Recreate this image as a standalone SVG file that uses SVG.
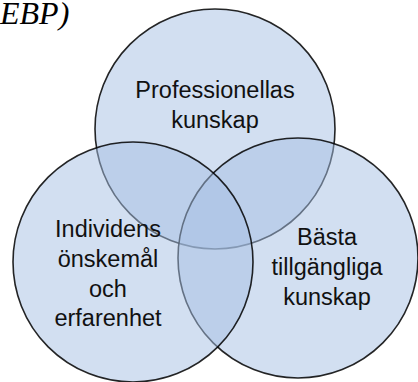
<svg xmlns="http://www.w3.org/2000/svg" width="418" height="382" viewBox="0 0 418 382">
<style>
.c{fill:rgb(165,192,228);fill-opacity:0.5;stroke:#000;stroke-width:1.6;stroke-opacity:0.85}
.t{font-family:"Liberation Sans",Arial,sans-serif;font-size:23.5px;fill:#111;text-anchor:middle}
.h{font-family:"Liberation Serif","Times New Roman",serif;font-size:32px;font-style:italic;fill:#000}
</style>
<rect width="418" height="382" fill="#fff"/>
<text class="h" x="0" y="24">EBP)</text>
<g id="professionellas">
<circle class="c" cx="215" cy="129" r="120"/>
</g>
<g id="basta">
<circle class="c" cx="298" cy="258" r="120"/>
</g>
<g id="individens">
<circle class="c" cx="133" cy="262" r="120"/>
</g>
<g id="labels">
<text class="t" x="215" y="98">Professionellas</text>
<text class="t" x="215" y="128">kunskap</text>
<text class="t" x="108" y="237">Individens</text>
<text class="t" x="108" y="267">önskemål</text>
<text class="t" x="108" y="297">och</text>
<text class="t" x="108" y="326">erfarenhet</text>
<text class="t" x="327" y="245">Bästa</text>
<text class="t" x="327" y="275">tillgängliga</text>
<text class="t" x="327" y="305">kunskap</text>
</g>
<g id="connectors"/>
</svg>
